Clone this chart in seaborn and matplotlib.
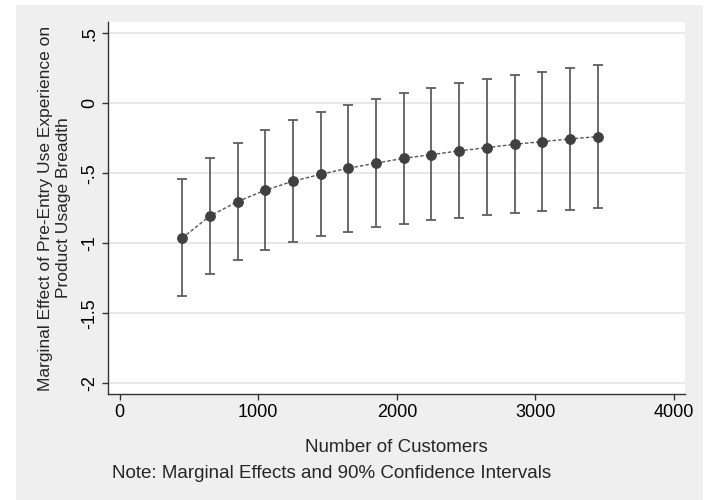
import numpy as np
import pandas as pd
import matplotlib
matplotlib.use("Agg")
import matplotlib.pyplot as plt
from matplotlib.patches import Rectangle
import seaborn as sns

# ---------- DATA ----------
customers = [450, 650, 850, 1050, 1250, 1450, 1650, 1850,
             2050, 2250, 2450, 2650, 2850, 3050, 3250, 3450]
effect = [-0.963, -0.806, -0.702, -0.621, -0.557, -0.507, -0.464, -0.428,
          -0.393, -0.367, -0.340, -0.317, -0.293, -0.274, -0.255, -0.238]
ci_upper = [-0.542, -0.390, -0.281, -0.190, -0.121, -0.062, -0.012, 0.033,
            0.076, 0.111, 0.145, 0.173, 0.200, 0.223, 0.250, 0.271]
ci_lower = [-1.379, -1.218, -1.118, -1.046, -0.992, -0.949, -0.916, -0.885,
            -0.861, -0.837, -0.816, -0.799, -0.785, -0.770, -0.759, -0.745]
y_ticks = [0.5, 0, -0.5, -1, -1.5, -2]
y_ticklabels = [".5", "0", "-.5", "-1", "-1.5", "-2"]
x_ticks = [0, 1000, 2000, 3000, 4000]

df = pd.DataFrame({"customers": customers, "effect": effect,
                   "lo": ci_lower, "hi": ci_upper})

# ---------- STYLE ----------
sns.set_theme(style="white")
plt.rcParams["font.family"] = ["Liberation Sans", "DejaVu Sans"]

fig = plt.figure(figsize=(7.08, 5.0), dpi=100, facecolor="white")
# grey graph region with a thin white margin (Stata look)
fig.patches.append(Rectangle((16 / 708, 0), (703 - 16) / 708, 495 / 500,
                             transform=fig.transFigure, facecolor="#efefef",
                             edgecolor="none", zorder=-10))
ax = fig.add_axes([0.1525, 0.212, 0.815, 0.744])
ax.set_facecolor("white")

# ---------- CONFIDENCE INTERVALS ----------
ax.errorbar(df["customers"], df["effect"],
            yerr=[df["effect"] - df["lo"], df["hi"] - df["effect"]],
            fmt="none", ecolor="#5e5e5e", elinewidth=1.3,
            capsize=3.8, capthick=1.3, zorder=2)

# ---------- POINT ESTIMATES ----------
sns.lineplot(data=df, x="customers", y="effect", ax=ax,
             color="#555555", linestyle=(0, (2.5, 1.5)), linewidth=1.0,
             marker="o", markersize=7, markerfacecolor="#404040",
             markeredgecolor="#404040", zorder=3)

# ---------- AXES ----------
ax.set_xlim(-85, 4080)
ax.set_ylim(-2.076, 0.58)
ax.set_yticks(y_ticks)
ax.set_yticklabels(y_ticklabels, rotation=90, va="center")
ax.set_xticks(x_ticks)
ax.yaxis.grid(True, color="#e4e4e4", linewidth=1.2)
ax.xaxis.grid(False)
ax.set_axisbelow(True)

for s in ["top", "right"]:
    ax.spines[s].set_visible(False)
for s in ["left", "bottom"]:
    ax.spines[s].set_color("#333333")
    ax.spines[s].set_linewidth(1.0)

ax.tick_params(axis="both", which="major", direction="out", length=4.5,
               width=1.0, color="#333333", labelsize=13,
               labelcolor="black", left=True, bottom=True)
ax.tick_params(axis="y", pad=2.5)
ax.tick_params(axis="x", pad=3)

ax.set_xlabel("Number of Customers", fontsize=13.5, va="center")
ax.xaxis.set_label_coords(0.5, ((1 - 448 / 500) - 0.212) / 0.744)
ax.set_ylabel("Marginal Effect of Pre-Entry Use Experience on\nProduct Usage Breadth",
              fontsize=12.5, linespacing=1.23, va="center")
ax.yaxis.set_label_coords((54.5 - 108) / 577, 0.5)

fig.text(112 / 708, 1 - 473 / 500, "Note: Marginal Effects and 90% Confidence Intervals",
         fontsize=13.5, ha="left", va="center")

fig.savefig("out.png", dpi=100)
